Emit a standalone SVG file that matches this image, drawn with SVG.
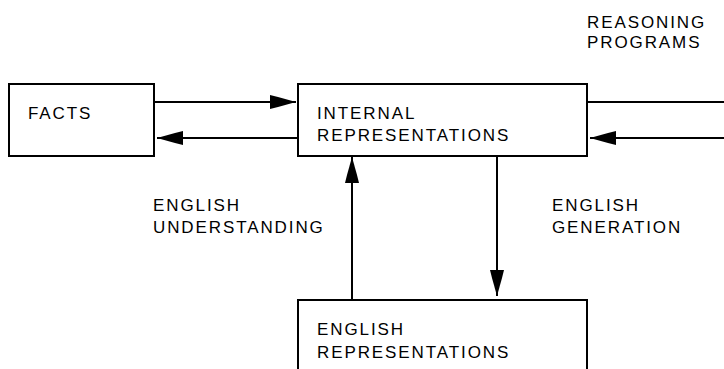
<svg xmlns="http://www.w3.org/2000/svg" width="724" height="369" viewBox="0 0 724 369">
<defs>
<style>
.box{fill:#fff;stroke:#000;stroke-width:2}
.ln{fill:none;stroke:#000;stroke-width:2}
.t{font-family:"Liberation Sans",Arial,sans-serif;font-size:17px;letter-spacing:1.9px;fill:#000}
</style>
<marker id="ah" viewBox="0 0 26 14" refX="26" refY="7" markerWidth="26" markerHeight="14" markerUnits="userSpaceOnUse" orient="auto">
<path d="M0,0 L8,2 L26,7 L8,12 L0,14 Z" fill="#000"/>
</marker>
</defs>
<rect width="724" height="369" fill="#fff"/>
<g id="connectors">
<line class="ln" x1="155" y1="102" x2="296" y2="102" marker-end="url(#ah)"/>
<line class="ln" x1="297" y1="138" x2="157" y2="138" marker-end="url(#ah)"/>
<line class="ln" x1="588" y1="102" x2="724" y2="102"/>
<line class="ln" x1="724" y1="138" x2="590" y2="138" marker-end="url(#ah)"/>
<line class="ln" x1="352" y1="299" x2="352" y2="157" marker-end="url(#ah)"/>
<line class="ln" x1="497" y1="157" x2="497" y2="296" marker-end="url(#ah)"/>
</g>
<g id="facts">
<rect class="box" x="9" y="84" width="145" height="72"/>
<text class="t" x="28" y="119">FACTS</text>
</g>
<g id="internal">
<rect class="box" x="298" y="84" width="289" height="72"/>
<text class="t" x="317" y="119">INTERNAL</text>
<text class="t" x="317" y="141">REPRESENTATIONS</text>
</g>
<g id="english">
<rect class="box" x="298" y="300" width="289" height="80"/>
<text class="t" x="317" y="335">ENGLISH</text>
<text class="t" x="317" y="358">REPRESENTATIONS</text>
</g>
<g id="reasoning">
<text class="t" x="587" y="28">REASONING</text>
<text class="t" x="587" y="48">PROGRAMS</text>
</g>
<g id="understanding">
<text class="t" x="153" y="211">ENGLISH</text>
<text class="t" x="153" y="233">UNDERSTANDING</text>
</g>
<g id="generation">
<text class="t" x="552" y="211">ENGLISH</text>
<text class="t" x="552" y="233">GENERATION</text>
</g>
</svg>
